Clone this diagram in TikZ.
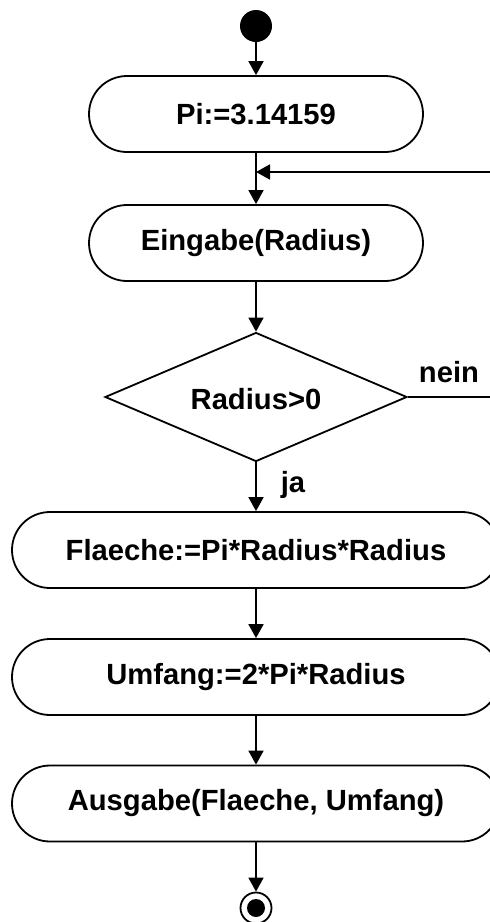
\documentclass[tikz,border=0pt]{standalone}
\usepackage{fontspec}
\setmainfont{Liberation Sans}
\usetikzlibrary{arrows.meta,shapes.geometric}
\begin{document}
\begin{tikzpicture}[x=1pt,y=-1pt,
  every node/.style={font=\fontsize{29.2}{34}\selectfont\bfseries},
  actbox/.style={draw,line width=1.8pt,rectangle,rounded corners=38pt,minimum height=76pt,inner sep=0pt},
  flow/.style={line width=1.8pt,-{Triangle[length=14pt,width=15pt]}},
  plain/.style={line width=1.8pt}]
\useasboundingbox (0,0) rectangle (490,922);
\clip (0,0) rectangle (490,922);
\node[circle,fill=black,minimum size=32pt,inner sep=0pt] (start) at (256,26) {};
\node[actbox,minimum width=334pt] (pi) at (256,114) {Pi:=3.14159};
\node[actbox,minimum width=334pt] (ein) at (256,243) {Eingabe(Radius)};
\node[draw,line width=1.8pt,diamond,aspect=2.34,minimum width=302pt,minimum height=129pt,inner sep=0pt] (dec) at (256,397) {};
\node at (256,399) {Radius>0};
\node[actbox,minimum width=488pt] (fl) at (256,550) {Flaeche:=Pi*Radius*Radius};
\node[actbox,minimum width=488pt] (um) at (256,677) {Umfang:=2*Pi*Radius};
\node[actbox,minimum width=488pt] (aus) at (256,803.5) {Ausgabe(Flaeche, Umfang)};
\node[circle,draw,line width=1.8pt,minimum size=31pt,inner sep=0pt] (end) at (256,908) {};
\node[circle,fill=black,minimum size=18pt,inner sep=0pt] (endin) at (256,908) {};
\coordinate (merge) at (256,172);
\coordinate (loopin) at (490,172);
\coordinate (neinend) at (490,397);
\draw[flow] (start) -- (pi);
\draw[plain] (pi) -- (merge);
\draw[flow] (merge) -- (ein);
\draw[flow] (loopin) -- (merge);
\draw[flow] (ein) -- (dec);
\draw[plain] (dec.east) -- (neinend);
\node[anchor=base] (nein) at (449,382) {nein};
\draw[flow] (dec.south) -- (fl);
\node[anchor=base] (ja) at (293,492) {ja};
\draw[flow] (fl) -- (um);
\draw[flow] (um) -- (aus);
\draw[flow] (aus) -- (end);
\end{tikzpicture}
\end{document}
